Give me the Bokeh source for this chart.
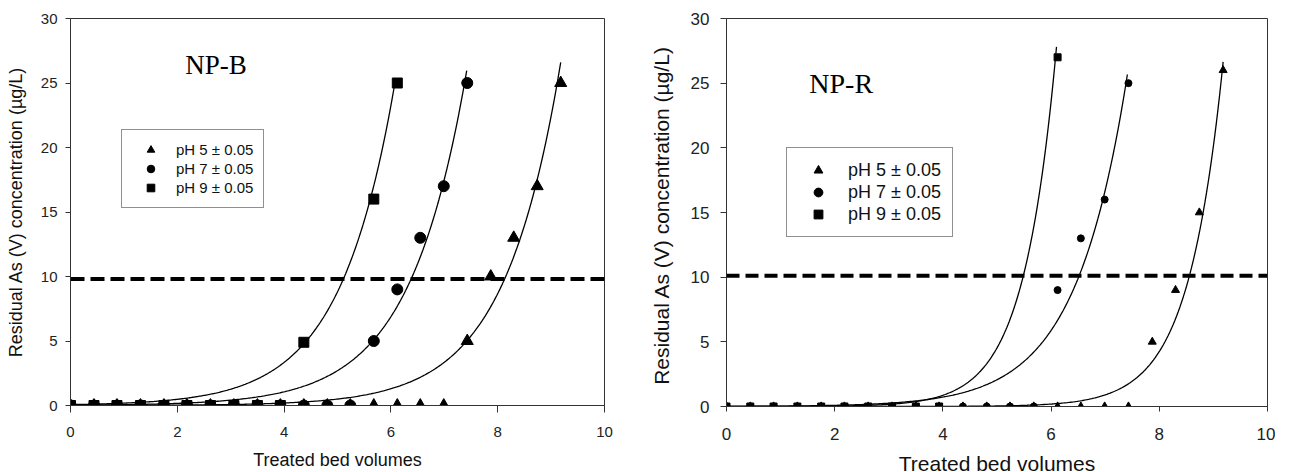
import numpy as np
from bokeh.plotting import figure
from bokeh.layouts import row
from bokeh.models import Range1d, Span, Legend, LegendItem, Label, FixedTicker
from bokeh.embed import file_html
from bokeh.resources import INLINE

# ---------------- data ----------------
bed_volumes = [0, 0.44, 0.87, 1.31, 1.75, 2.18, 2.62, 3.06, 3.5, 3.93, 4.37,
               4.81, 5.24, 5.68, 6.12, 6.55, 6.99, 7.43, 7.87, 8.3, 8.74, 9.18]

# NP-B panel
npb_ph5_x = bed_volumes[:22]
npb_ph5_y = [0, 0, 0, 0, 0, 0, 0, 0, 0, 0, 0, 0, 0, 0, 0, 0, 0, 5, 10, 13, 17, 25]
npb_ph7_x = bed_volumes[:18]
npb_ph7_y = [0, 0, 0, 0, 0, 0, 0, 0, 0, 0, 0, 0, 0, 5, 9, 13, 17, 25]
npb_ph9_x = bed_volumes[:11] + [5.68, 6.12]
npb_ph9_y = [0, 0, 0, 0, 0, 0, 0, 0, 0, 0, 4.9, 16, 25]
# exponential fit y = a*exp(b*x), drawn from 0 to end  (pH 5, 7, 9)
npb_fit_a = [0.00434, 0.0252, 0.069]
npb_fit_b = [0.95, 0.935, 0.97]
npb_fit_end = [9.18, 7.42, 6.07]
npb_limit = 9.8

# NP-R panel
npr_ph5_x = bed_volumes[:22]
npr_ph5_y = [0, 0, 0, 0, 0, 0, 0, 0, 0, 0, 0, 0, 0, 0, 0, 0, 0, 0, 5, 9, 15, 26]
npr_ph7_x = bed_volumes[:18]
npr_ph7_y = [0, 0, 0, 0, 0, 0, 0, 0, 0, 0, 0, 0, 0, 0, 9, 13, 16, 25]
npr_ph9_x = bed_volumes[:10] + [6.12]
npr_ph9_y = [0, 0, 0, 0, 0, 0, 0, 0, 0, 0, 27]
npr_fit_a = [1.683e-5, 0.01113, 0.001183]
npr_fit_b = [1.555, 1.045, 1.65]
npr_fit_end = [9.18, 7.41, 6.1]
npr_limit = 10.1

legend_labels = ["pH 5 \u00b1 0.05", "pH 7 \u00b1 0.05", "pH 9 \u00b1 0.05"]
x_ticks = [0, 2, 4, 6, 8, 10]
y_ticks = [0, 5, 10, 15, 20, 25, 30]
x_title = "Treated bed volumes"

SANS = "Liberation Sans"
SERIF = "Liberation Serif"
AX = "#333333"


def panel(cfg):
    p = figure(frame_width=cfg["fw"], frame_height=cfg["fh"],
               x_range=Range1d(0, 10), y_range=Range1d(0, 30),
               output_backend="svg", toolbar_location=None,
               min_border_left=cfg["bl"], min_border_right=cfg["br"],
               min_border_top=cfg["bt"], min_border_bottom=cfg["bb"])
    p.grid.visible = False
    p.outline_line_color = AX
    p.outline_line_width = 1
    p.background_fill_color = "white"
    p.border_fill_color = "white"

    p.xaxis.ticker = FixedTicker(ticks=x_ticks)
    p.yaxis.ticker = FixedTicker(ticks=y_ticks)
    for ax in (p.xaxis, p.yaxis):
        ax.axis_line_color = AX
        ax.major_tick_line_color = AX
        ax.minor_tick_line_color = None
        ax.major_tick_in = 0
        ax.major_label_text_font = SANS
        ax.major_label_text_font_size = cfg["tick_fs"]
        ax.major_label_text_color = "#222222"
        ax.axis_label_text_font = SANS
        ax.axis_label_text_font_style = "normal"
        ax.axis_label_text_font_size = cfg["lab_fs"]
        ax.axis_label_text_color = "#111111"
    p.xaxis.major_tick_out = cfg["xtick_out"]
    p.yaxis.major_tick_out = cfg["ytick_out"]
    p.xaxis.major_label_standoff = cfg["xstand"]
    p.yaxis.major_label_standoff = cfg["ystand"]
    p.xaxis.axis_label = x_title
    p.yaxis.axis_label = cfg["ylabel"]
    p.xaxis.axis_label_standoff = cfg["xlab_stand"]
    p.yaxis.axis_label_standoff = cfg["ylab_stand"]

    # threshold line
    p.add_layout(Span(location=cfg["limit"], dimension="width", line_color="black",
                      line_width=4, line_dash=cfg["dash"]))

    # fitted curves
    for a, b, end in zip(cfg["fa"], cfg["fb"], cfg["fend"]):
        xs = np.linspace(0, end, 300)
        p.line(xs, a * np.exp(b * xs), line_color="black", line_width=1.3)

    ms = cfg["msize"]
    r5 = p.scatter(cfg["x5"], cfg["y5"], marker="triangle", size=ms[0], color="black")
    r7 = p.scatter(cfg["x7"], cfg["y7"], marker="circle", size=ms[1], color="black")
    r9 = p.scatter(cfg["x9"], cfg["y9"], marker="square", size=ms[2], color="black")

    lg = Legend(items=[LegendItem(label=legend_labels[0], renderers=[r5]),
                       LegendItem(label=legend_labels[1], renderers=[r7]),
                       LegendItem(label=legend_labels[2], renderers=[r9])],
                location=cfg["leg_loc"], border_line_color="#222222", border_line_width=1,
                padding=cfg["leg_pad"], spacing=0, margin=0,
                glyph_width=cfg["leg_gw"], glyph_height=cfg["leg_rh"],
                label_height=cfg["leg_rh"], label_standoff=cfg["leg_ls"],
                label_text_font=SANS, label_text_font_size=cfg["leg_fs"],
                label_text_color="#111111", background_fill_alpha=1.0)
    p.add_layout(lg)

    p.add_layout(Label(x=cfg["title_x"], y=cfg["title_y"], text=cfg["title"],
                       text_font=SERIF, text_font_size=cfg["title_fs"],
                       text_baseline="middle", text_color="black"))
    return p


left = panel(dict(fw=534, fh=387, bl=70, br=28, bt=18, bb=51,
                  tick_fs="15px", lab_fs="18px", xtick_out=7, ytick_out=5,
                  xstand=14, ystand=8, xlab_stand=10, ylab_stand=12,
                  ylabel="Residual As (V) concentration (\u00b5g/L)",
                  limit=npb_limit, dash="14 6",
                  fa=npb_fit_a, fb=npb_fit_b, fend=npb_fit_end,
                  msize=[12, 11, 10],
                  x5=npb_ph5_x, y5=npb_ph5_y, x7=npb_ph7_x, y7=npb_ph7_y,
                  x9=npb_ph9_x, y9=npb_ph9_y,
                  leg_loc=(51, 197), leg_pad=10, leg_gw=37, leg_rh=19, leg_ls=7,
                  leg_fs="15px",
                  title="NP-B", title_x=2.15, title_y=26.4, title_fs="27px"))

right = panel(dict(fw=541, fh=388, bl=94, br=8, bt=16, bb=52,
                   tick_fs="17px", lab_fs="21px", xtick_out=5, ytick_out=6,
                   xstand=16, ystand=11, xlab_stand=9, ylab_stand=15,
                   ylabel="Residual  As (V) concentration (\u00b5g/L)",
                   limit=npr_limit, dash="13 6",
                   fa=npr_fit_a, fb=npr_fit_b, fend=npr_fit_end,
                   msize=[8, 7, 7],
                   x5=npr_ph5_x, y5=npr_ph5_y, x7=npr_ph7_x, y7=npr_ph7_y,
                   x9=npr_ph9_x, y9=npr_ph9_y,
                   leg_loc=(60, 169), leg_pad=11, leg_gw=40, leg_rh=22, leg_ls=10,
                   leg_fs="18px",
                   title="NP-R", title_x=1.53, title_y=25.0, title_fs="28px"))

layout = row(left, right)
open("out.html", "w").write(file_html(layout, INLINE))
